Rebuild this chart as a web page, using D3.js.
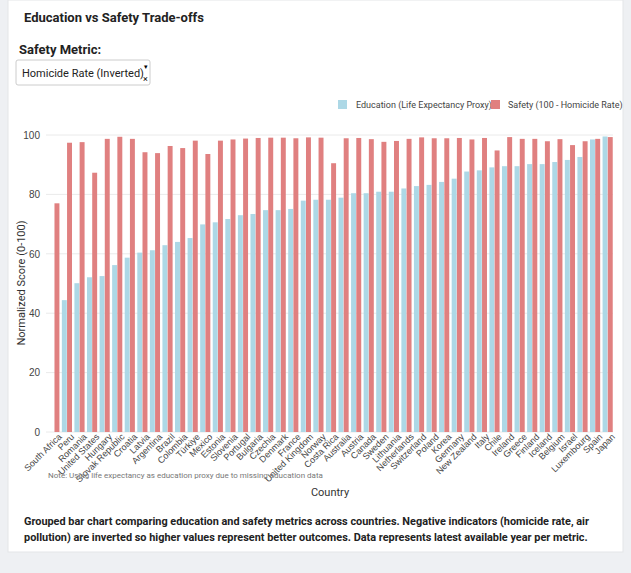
<!DOCTYPE html><html><head><meta charset="utf-8">
<script src="https://cdn.jsdelivr.net/npm/d3@7"></script>
<style>body{margin:0;background:#eef0f3;font-family:Roboto,"Noto Sans",sans-serif;}</style></head><body>
<svg id="c" width="631" height="573"></svg>
<script>
const countries=["South Africa","Peru","Romania","United States","Hungary","Slovak Republic","Croatia","Latvia","Argentina","Brazil","Colombia","Türkiye","Mexico","Estonia","Slovenia","Portugal","Bulgaria","Czechia","Denmark","France","United Kingdom","Norway","Costa Rica","Australia","Austria","Canada","Sweden","Lithuania","Netherlands","Switzerland","Poland","Korea","Germany","New Zealand","Italy","Chile","Ireland","Greece","Finland","Iceland","Belgium","Israel","Luxembourg","Spain","Japan"];
const education=[null,44.4,50.1,52.1,52.5,56.2,58.7,60.4,61.2,62.9,64,65.3,69.9,70.6,71.7,73,73.4,74.7,74.7,75.1,77.9,78.2,78.2,78.9,80.4,80.4,80.9,80.9,82,82.8,83.2,84.2,85.3,87.7,88.1,89.1,89.5,89.5,90.2,90.2,90.9,91.6,92.6,98.5,99.5];
const safety=[77,97.4,97.6,87.3,98.7,99.4,98.7,94.2,93.9,96.3,95.6,98.1,93.6,98.1,98.5,98.8,99,99.1,99.1,98.9,99.2,99.1,90.5,98.9,99,98.6,97.7,98,98.7,99.2,98.9,98.9,99,98.5,99,94.8,99.3,98.7,98.7,97.9,98.6,96.6,97.9,98.7,99.3];
const yTicks=[0,20,40,60,80,100];
const svg=d3.select("#c");
svg.append("rect").attr("x",8).attr("y",0).attr("width",615).attr("height",552).attr("fill","#fff").attr("stroke","#e3e5e8");
svg.append("text").attr("x",24).attr("y",22).text("Education vs Safety Trade-offs").attr("font-weight","bold").attr("font-size",13).attr("fill","#222");
svg.append("text").attr("x",19).attr("y",54).text("Safety Metric:").attr("font-weight","bold").attr("font-size",13).attr("fill","#222");
svg.append("rect").attr("x",16).attr("y",60).attr("width",134).attr("height",25).attr("rx",2).attr("fill","#fff").attr("stroke","#ccc");
svg.append("text").attr("x",22).attr("y",77).text("Homicide Rate (Inverted)").attr("font-size",11).attr("fill","#222");
svg.append("text").attr("x",144).attr("y",69).text("▾").attr("font-size",7);
svg.append("text").attr("x",143).attr("y",82).text("×").attr("font-size",9);
const x0=d3.scaleBand().domain(countries).range([49,613]).paddingInner(0.15);
const x1=d3.scaleBand().domain(["e","s"]).range([0,x0.bandwidth()]).padding(0.05);
const y=d3.scaleLinear().domain([0,100]).range([432,135]);
const g=svg.append("g");
yTicks.forEach(t=>{g.append("line").attr("x1",46).attr("x2",613).attr("y1",y(t)).attr("y2",y(t)).attr("stroke","#eaeaea");});
g.append("g").attr("transform","translate(46,0)").call(d3.axisLeft(y).tickValues(yTicks).tickSize(0).tickPadding(6)).call(a=>{a.select(".domain").remove();a.selectAll("text").attr("font-size",10).attr("fill","#444");});
countries.forEach((c,i)=>{
 if(education[i]!=null) g.append("rect").attr("x",x0(c)+x1("e")).attr("width",x1.bandwidth()).attr("y",y(education[i])).attr("height",y(0)-y(education[i])).attr("fill","#add8e6");
 g.append("rect").attr("x",x0(c)+x1("s")).attr("width",x1.bandwidth()).attr("y",y(safety[i])).attr("height",y(0)-y(safety[i])).attr("fill","#e08080");
});
const xa=g.append("g").attr("transform","translate(0,432)").call(d3.axisBottom(x0).tickSize(0).tickPadding(4));
xa.select(".domain").remove();
xa.selectAll("text").attr("font-size",9).attr("fill","#444").attr("text-anchor","end").attr("dx","0.2em").attr("dy","0.6em").attr("transform","rotate(-45)");
svg.append("text").attr("transform","translate(25,283) rotate(-90)").attr("text-anchor","middle").text("Normalized Score (0-100)").attr("font-size",11).attr("fill","#333");
svg.append("text").attr("x",330).attr("y",496).attr("text-anchor","middle").text("Country").attr("font-size",11).attr("fill","#333");
svg.append("text").attr("x",48).attr("y",478).text("Note: Using life expectancy as education proxy due to missing education data").attr("font-size",8).attr("fill","#777");
const lg=svg.append("g");
lg.append("rect").attr("x",338).attr("y",100).attr("width",9).attr("height",9).attr("fill","#add8e6");
lg.append("text").attr("x",356).attr("y",108).text("Education (Life Expectancy Proxy)").attr("font-size",9).attr("fill","#444");
lg.append("rect").attr("x",491).attr("y",100).attr("width",9).attr("height",9).attr("fill","#e08080");
lg.append("text").attr("x",508).attr("y",108).text("Safety (100 - Homicide Rate)").attr("font-size",9).attr("fill","#444");
svg.append("text").attr("x",24).attr("y",525).text("Grouped bar chart comparing education and safety metrics across countries. Negative indicators (homicide rate, air").attr("font-weight","bold").attr("font-size",10.9).attr("fill","#222");
svg.append("text").attr("x",24).attr("y",541).text("pollution) are inverted so higher values represent better outcomes. Data represents latest available year per metric.").attr("font-weight","bold").attr("font-size",10.9).attr("fill","#222");
</script></body></html>
